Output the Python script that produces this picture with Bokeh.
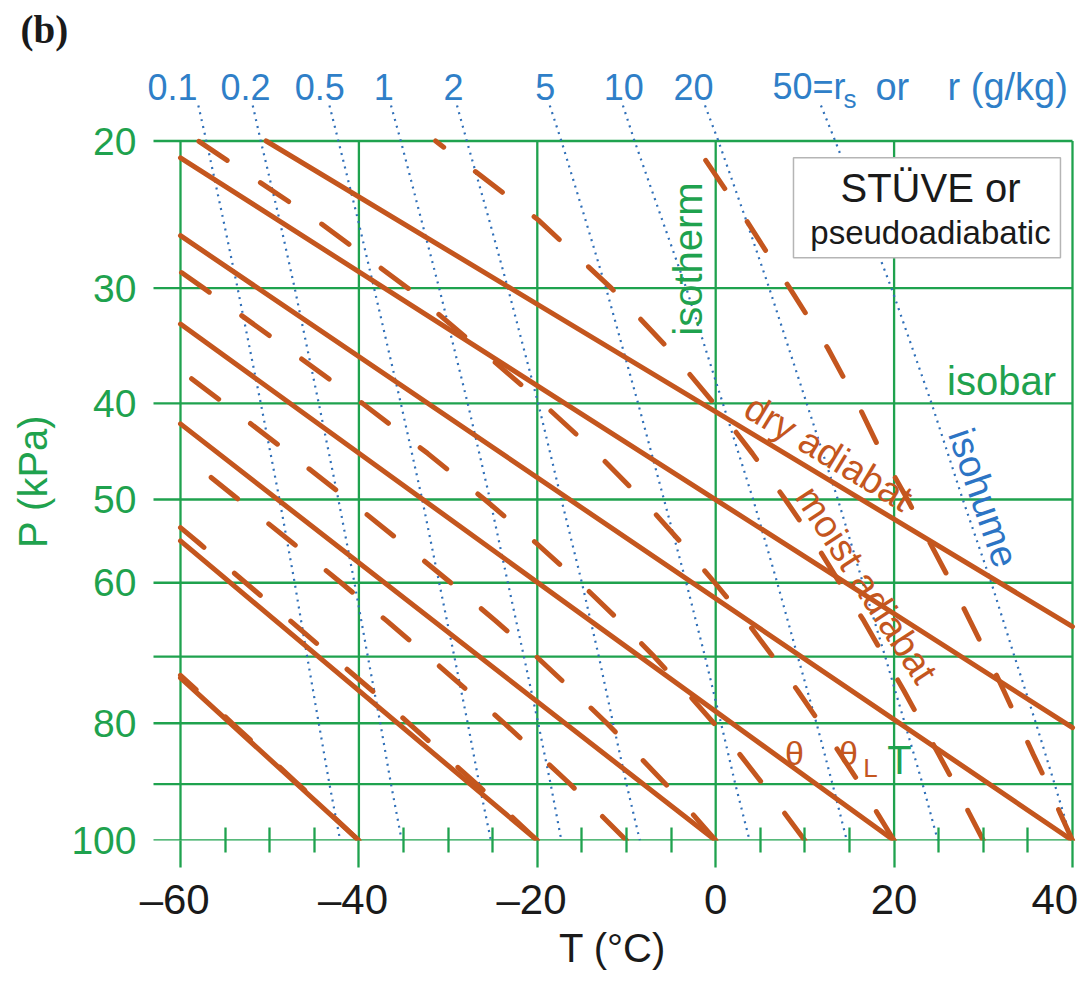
import math, json
from bokeh.plotting import figure
from bokeh.models import Range1d, FixedTicker, CustomJSTickFormatter
from bokeh.core.properties import value
from bokeh.embed import file_html
from bokeh.resources import INLINE

# ---------------- data ----------------
T_GRID = [-60, -40, -20, 0, 20, 40]                       # isotherms (deg C)
T_MINOR = [-55, -50, -45, -35, -30, -25, -15, -10, -5, 5, 10, 15, 25, 30, 35]
P_GRID = [20, 30, 40, 50, 60, 70, 80, 90, 100]             # isobars (kPa)
P_LABEL = {20: "20", 30: "30", 40: "40", 50: "50", 60: "60", 80: "80", 100: "100"}
T_LABEL = {-60: "\u201360\u00a0", -40: "\u201340\u00a0", -20: "\u201320\u00a0", 0: "0", 20: "20",
           40: "40\u2009"}

# dry adiabats (straight lines on a Stuve diagram): end points
DRY_T0 = [-60, -60, -60, -60, -60, -60, -50.4]
DRY_P0 = [73.1, 54.8, 42.0, 32.9, 26.1, 21.0, 20.0]
DRY_T1 = [-40, -20, 0, 20, 40, 40, 40]
DRY_P1 = [100, 100, 100, 100, 100, 80.7, 65.8]

# moist adiabats: temperature (deg C) at each pressure level
MOIST_P = [100, 95, 90, 85, 80, 75, 70, 65, 60, 55, 50, 45, 40, 35, 30, 25, 20]
MOIST_M40 = [-40.0, -43.3, -46.8, -50.4, -54.2, -58.1, -62.3, -66.7, -71.4, -76.3, -81.6, -87.3, -93.4, -100.1, -107.6, -116.0, -125.7]
MOIST_M20 = [-20.0, -23.3, -26.8, -30.5, -34.4, -38.5, -43.0, -47.7, -52.7, -58.0, -63.8, -70.0, -76.7, -84.0, -92.1, -101.3, -111.9]
MOIST_M10 = [-10.0, -13.1, -16.3, -19.9, -23.7, -27.8, -32.2, -36.9, -42.0, -47.5, -53.5, -59.9, -66.9, -74.6, -83.2, -92.8, -103.9]
MOIST_P0 = [0.0, -2.7, -5.6, -8.8, -12.2, -16.0, -20.1, -24.7, -29.7, -35.2, -41.2, -47.8, -55.1, -63.2, -72.2, -82.4, -94.1]
MOIST_P10 = [10.0, 7.7, 5.3, 2.7, -0.2, -3.4, -6.9, -10.8, -15.2, -20.2, -25.9, -32.3, -39.6, -48.0, -57.4, -68.3, -80.9]
MOIST_P20 = [20.0, 18.1, 16.2, 14.0, 11.7, 9.2, 6.4, 3.4, -0.1, -3.9, -8.2, -13.3, -19.4, -26.5, -34.5, -44.8, -58.0]
MOIST_P30 = [30.0, 28.4, 26.8, 25.0, 23.1, 21.1, 18.9, 16.6, 13.9, 11.1, 7.8, 4.1, -0.2, -5.3, -11.7, -19.9, -31.4]
MOIST_P40 = [40.0, 38.6, 37.2, 35.6, 34.0, 32.3, 30.5, 28.5, 26.4, 24.0, 21.5, 18.6, 15.9, 12.6, 8.3, 3.4, -2.6]

# isohumes: temperature (deg C) at each pressure level
ISO_P = [18, 20, 25, 30, 40, 50, 60, 70, 80, 90, 100]
ISO_R01 = [-58.0, -57.1, -55.2, -53.6, -51.0, -48.9, -47.2, -45.8, -44.5, -43.3, -42.1]
ISO_R02 = [-51.9, -51.0, -48.9, -47.2, -44.5, -42.3, -40.5, -39.0, -37.6, -36.4, -35.2]
ISO_R05 = [-43.3, -42.3, -40.1, -38.3, -35.3, -32.9, -31.0, -29.3, -27.8, -26.5, -25.2]
ISO_R1 = [-36.4, -35.3, -33.0, -31.0, -27.8, -25.3, -23.3, -21.5, -19.9, -18.5, -17.3]
ISO_R2 = [-29.0, -27.9, -25.4, -23.3, -19.9, -17.3, -15.0, -13.1, -11.5, -10.0, -8.5]
ISO_R5 = [-18.6, -17.3, -14.6, -12.3, -8.7, -5.8, -3.3, -1.2, 0.6, 2.2, 3.8]
ISO_R10 = [-10.4, -9.1, -6.0, -3.3, 0.8, 4.2, 6.9, 9.2, 11.3, 13.1, 14.7]
ISO_R20 = [-1.2, 0.3, 3.4, 6.0, 10.2, 13.7, 16.5, 19.0, 21.2, 23.2, 24.9]
ISO_R50 = [11.8, 13.4, 16.8, 19.7, 24.2, 27.7, 30.9, 33.5, 35.9, 38.0, 39.9]

ISO_LABELS = ["0.1", "0.2", "0.5", "1", "2", "5", "10", "20"]
ISO_LABEL_T = [-60.9, -52.7, -44.4, -37.2, -29.4, -19.1, -10.3, -2.5]

# ---------------- styling / geometry ----------------
GREEN = "#1fa24e"
BROWN = "#c4561e"
BLUE_LINE = "#2f6fb8"
BLUE_TEXT = "#2f7fc8"
DARK = "#1a1a1a"
FONT = "Liberation Sans"

K = 0.286
def yk(p):
    return p ** K

PX_PER_DEG = 8.92
FRAME_W, FRAME_H = 948, 785
X0 = T_GRID[0] - 42 / PX_PER_DEG
X1 = X0 + FRAME_W / PX_PER_DEG
PX_PER_Y = 699.5 / (yk(100) - yk(20))
Y_BOTTOM = yk(100)
Y_TOP = Y_BOTTOM - FRAME_H / PX_PER_Y
TICK_EXT = 27 / PX_PER_DEG


def clip_left(ts, ys, tmin):
    """Clip a polyline at the left isotherm of the diagram."""
    out_t, out_y = [], []
    for i, (t, y) in enumerate(zip(ts, ys)):
        if i > 0 and (ts[i - 1] >= tmin) != (t >= tmin):
            f = (tmin - ts[i - 1]) / (t - ts[i - 1])
            out_t.append(tmin)
            out_y.append(ys[i - 1] + f * (y - ys[i - 1]))
        if t >= tmin:
            out_t.append(t)
            out_y.append(y)
    return out_t, out_y


p = figure(frame_width=FRAME_W, frame_height=FRAME_H,
           x_range=Range1d(X0, X1), y_range=Range1d(Y_BOTTOM, Y_TOP),
           output_backend="svg", toolbar_location=None,
           min_border_left=138, min_border_right=0, min_border_top=0, min_border_bottom=0,
           title="(b)")
p.xgrid.visible = False
p.ygrid.visible = False
p.outline_line_color = None
p.title.text_font = "Liberation Serif"
p.title.text_font_size = "39px"
p.title.text_font_style = "bold"
p.title.text_color = DARK
p.title.align = "left"
p.title.offset = -118

# x axis
xa = p.xaxis[0]
xa.ticker = FixedTicker(ticks=T_GRID, minor_ticks=T_MINOR)
xa.major_label_overrides = T_LABEL
xa.axis_line_color = None
xa.major_tick_line_color = GREEN
xa.major_tick_line_width = 2.3
xa.major_tick_out = 27
xa.major_tick_in = 0
xa.minor_tick_line_color = GREEN
xa.minor_tick_line_width = 2.3
xa.minor_tick_in = 13
xa.minor_tick_out = 12
xa.major_label_text_font = FONT
xa.major_label_text_font_size = "42px"
xa.major_label_text_color = DARK
xa.major_label_standoff = 8
xa.axis_label = "T (\u00b0C)"
xa.axis_label_text_font = FONT
xa.axis_label_text_font_size = "40px"
xa.axis_label_text_font_style = "normal"
xa.axis_label_text_color = DARK
xa.axis_label_standoff = 0

# y axis
ya = p.yaxis[0]
ya.ticker = FixedTicker(ticks=[yk(v) for v in P_GRID])
ya.formatter = CustomJSTickFormatter(code="const lab = %s; const v = Math.round(Math.pow(tick, 1/%r)); return lab[String(v)] || '';" % (json.dumps({str(k): v for k, v in P_LABEL.items()}), K))
ya.axis_line_color = None
ya.major_tick_line_color = None
ya.minor_tick_line_color = None
ya.major_tick_out = 0
ya.major_tick_in = 0
ya.major_label_standoff = 2
ya.major_label_text_font = FONT
ya.major_label_text_font_size = "39px"
ya.major_label_text_color = GREEN
ya.axis_label = "P (kPa)" + "\u00a0" * 6
ya.axis_label_text_font = FONT
ya.axis_label_text_font_size = "40px"
ya.axis_label_text_font_style = "normal"
ya.axis_label_text_color = GREEN
ya.axis_label_standoff = 13

# grid (isobars with outward tick, isotherms)
p.segment(x0=[T_GRID[0] - TICK_EXT] * len(P_GRID), x1=[T_GRID[-1]] * len(P_GRID),
          y0=[yk(v) for v in P_GRID], y1=[yk(v) for v in P_GRID],
          line_color=GREEN, line_width=2.3)
p.segment(x0=T_GRID, x1=T_GRID, y0=[yk(P_GRID[0])] * len(T_GRID), y1=[yk(P_GRID[-1])] * len(T_GRID),
          line_color=GREEN, line_width=2.3)

# isohumes
for iso in [ISO_R01, ISO_R02, ISO_R05, ISO_R1, ISO_R2, ISO_R5, ISO_R10, ISO_R20, ISO_R50]:
    p.line(iso, [yk(v) for v in ISO_P], line_color=BLUE_LINE, line_width=2.2, line_dash="2 5")

# dry adiabats
p.segment(x0=DRY_T0, y0=[yk(v) for v in DRY_P0], x1=DRY_T1, y1=[yk(v) for v in DRY_P1],
          line_color=BROWN, line_width=5, line_cap="round")

# moist adiabats (clipped at the -60 C isotherm)
for m in [MOIST_M40, MOIST_M20, MOIST_M10, MOIST_P0, MOIST_P10, MOIST_P20, MOIST_P30, MOIST_P40]:
    ct, cy = clip_left(m, [yk(v) for v in MOIST_P], T_GRID[0])
    p.line(ct, cy, line_color=BROWN, line_width=5, line_dash="34 40", line_cap="round")

# legend box
p.quad(left=[8.72], right=[38.65], top=[yk(21.0)], bottom=[yk(27.7)],
       fill_color="white", line_color="#b5b5b5", line_width=1.5)

def txt(t, x, y, size, color, align="center", baseline="middle", angle=0.0):
    p.text(x=[x], y=[yk(y)], text=[t], text_font=value(FONT), text_font_size=size,
           text_color=color, text_align=align, text_baseline=baseline,
           angle=math.radians(angle))

txt("ST\u00dcVE or", 24.08, 22.88, "40px", DARK)
txt("pseudoadiabatic", 24.08, 25.91, "33px", DARK)

for lab, t in zip(ISO_LABELS, ISO_LABEL_T):
    txt(lab, t, 17.0, "36px", BLUE_TEXT, baseline="alphabetic")
txt("50=r", 6.37, 17.0, "36px", BLUE_TEXT, align="left", baseline="alphabetic")
txt("s", 14.33, 17.65, "26px", BLUE_TEXT, align="left", baseline="alphabetic")
txt("or", 17.91, 17.0, "38px", BLUE_TEXT, align="left", baseline="alphabetic")
txt("r (g/kg)", 25.99, 17.0, "38px", BLUE_TEXT, align="left", baseline="alphabetic")

txt("isotherm", -3.05, 27.79, "40px", GREEN, angle=90)
txt("isobar", 32.04, 37.9, "40px", GREEN)
txt("dry adiabat", 12.65, 44.95, "38px", BROWN, angle=-31.2)
txt("moist adiabat", 16.91, 60.24, "38px", BROWN, angle=-57)
txt("isohume", 30.02, 49.8, "38px", "#2c74c4", angle=-71)
txt("\u03b8", 8.83, 84.7, "34px", BROWN)
txt("\u03b8", 14.89, 84.7, "34px", BROWN)
txt("L", 17.35, 87.2, "26px", BROWN)
txt("T", 20.61, 85.9, "40px", GREEN)

with open("out.html", "w") as f:
    f.write(file_html(p, INLINE))
